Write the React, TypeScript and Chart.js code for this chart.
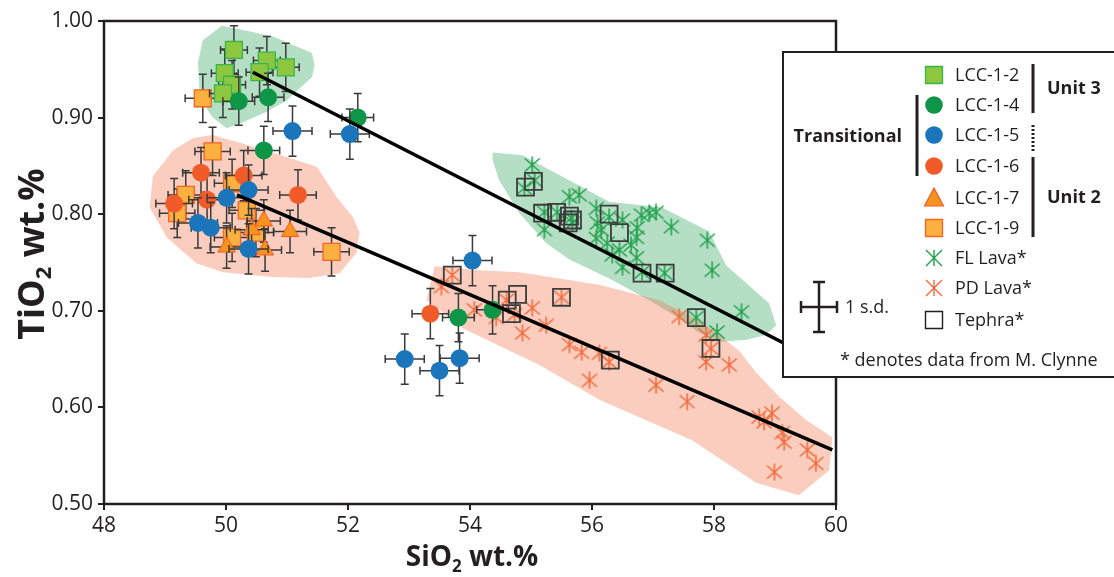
import React, { useEffect, useRef } from 'react';
import { Chart, registerables } from 'chart.js';

Chart.register(...registerables);

// ---------- axis ----------
const X_MIN = 48;
const X_MAX = 60;
const Y_MIN = 0.5;
const Y_MAX = 1.0;
const X_TICKS = [48, 50, 52, 54, 56, 58, 60];
const Y_TICKS = [0.5, 0.6, 0.7, 0.8, 0.9, 1.0];

// ---------- LCC samples (SiO2, TiO2) ----------
const LCC12_SIO2 = [50.13, 50.67, 50.98, 50.55, 49.98, 50.10, 49.95];
const LCC12_TIO2 = [0.970, 0.959, 0.952, 0.947, 0.946, 0.934, 0.925];

const LCC14_SIO2 = [50.21, 50.69, 50.62, 52.16, 53.81, 54.37];
const LCC14_TIO2 = [0.917, 0.921, 0.866, 0.900, 0.693, 0.701];

const LCC15_SIO2 = [51.09, 52.03, 50.37, 50.01, 49.54, 49.75, 50.37, 54.04, 52.93, 53.50, 53.83];
const LCC15_TIO2 = [0.886, 0.883, 0.825, 0.817, 0.791, 0.786, 0.764, 0.752, 0.650, 0.638, 0.651];

const LCC16_SIO2 = [49.59, 50.29, 51.18, 49.15, 49.69, 53.35];
const LCC16_TIO2 = [0.843, 0.840, 0.820, 0.811, 0.815, 0.697];

const LCC17_SIO2 = [50.62, 50.42, 51.05, 50.01, 50.64];
const LCC17_TIO2 = [0.793, 0.784, 0.782, 0.766, 0.763];

const LCC19_SIO2 = [49.62, 49.78, 50.10, 49.34, 49.20, 50.34, 50.10, 50.49, 51.73];
const LCC19_TIO2 = [0.920, 0.865, 0.832, 0.820, 0.801, 0.804, 0.776, 0.781, 0.761];

// 1 s.d. uncertainties per sample series (SiO2, TiO2)
const LCC12_SD = [0.22, 0.025];
const LCC14_SD = [0.26, 0.025];
const LCC15_SD = [0.32, 0.026];
const LCC16_SD = [0.30, 0.026];
const LCC17_SD = [0.27, 0.022];
const LCC19_SD = [0.29, 0.025];

// ---------- M. Clynne data ----------
const FL_SIO2 = [55.02, 54.89, 55.06, 55.22, 55.43, 55.22, 55.63, 55.79, 55.66, 55.68, 56.07, 56.09, 56.15, 56.07, 56.28, 56.50, 56.25, 56.33, 56.50, 56.73, 56.74, 56.81, 56.94, 57.05, 56.73, 57.30, 56.82, 57.19, 57.89, 57.97, 58.45, 58.05, 57.71, 56.45, 56.64];
const FL_TIO2 = [0.851, 0.827, 0.835, 0.802, 0.802, 0.784, 0.818, 0.820, 0.796, 0.791, 0.806, 0.791, 0.784, 0.775, 0.797, 0.794, 0.770, 0.758, 0.745, 0.776, 0.786, 0.799, 0.801, 0.802, 0.755, 0.787, 0.740, 0.739, 0.773, 0.742, 0.699, 0.678, 0.693, 0.763, 0.768];

const PD_SIO2 = [53.53, 53.71, 54.07, 54.43, 54.60, 54.73, 55.02, 55.25, 54.86, 55.63, 55.83, 56.12, 55.96, 55.50, 56.28, 57.43, 57.87, 57.95, 57.87, 58.25, 57.05, 57.56, 58.74, 58.95, 58.82, 59.12, 59.15, 59.53, 59.67, 58.99];
const PD_TIO2 = [0.725, 0.737, 0.701, 0.693, 0.711, 0.696, 0.703, 0.685, 0.677, 0.665, 0.657, 0.656, 0.628, 0.714, 0.647, 0.694, 0.675, 0.661, 0.647, 0.644, 0.623, 0.606, 0.590, 0.594, 0.585, 0.574, 0.564, 0.556, 0.542, 0.533];

const TEPHRA_SIO2 = [54.91, 55.04, 55.19, 55.42, 55.63, 55.68, 55.61, 56.28, 56.45, 56.82, 57.20, 57.71, 53.71, 54.61, 54.78, 54.68, 55.50, 56.30, 57.95];
const TEPHRA_TIO2 = [0.828, 0.834, 0.801, 0.802, 0.798, 0.794, 0.791, 0.800, 0.781, 0.739, 0.739, 0.693, 0.737, 0.711, 0.717, 0.697, 0.714, 0.649, 0.661];

// ---------- trend lines ----------
const UNIT3_TREND_SIO2 = [50.44, 60.0];
const UNIT3_TREND_TIO2 = [0.947, 0.639];
const UNIT2_TREND_SIO2 = [50.18, 59.94];
const UNIT2_TREND_TIO2 = [0.820, 0.556];

// ---------- shaded fields ----------
const FIELD_U3_SIO2 = [49.93, 50.34, 50.77, 51.41, 51.45, 51.41, 51.00, 50.67, 50.23, 50.01, 49.77, 49.57, 49.54, 49.62];
const FIELD_U3_TIO2 = [0.995, 0.990, 0.984, 0.967, 0.954, 0.942, 0.918, 0.906, 0.894, 0.889, 0.901, 0.921, 0.957, 0.980];

const FIELD_U2_SIO2 = [49.77, 50.23, 51.00, 51.49, 51.81, 52.08, 52.19, 52.14, 51.86, 51.37, 50.77, 49.95, 49.52, 49.03, 48.75, 48.80, 49.13, 49.46];
const FIELD_U2_TIO2 = [0.882, 0.874, 0.859, 0.849, 0.818, 0.797, 0.781, 0.760, 0.739, 0.734, 0.735, 0.740, 0.749, 0.776, 0.807, 0.839, 0.866, 0.879];

const FIELD_FL_SIO2 = [54.37, 54.86, 55.51, 56.28, 57.15, 57.92, 58.20, 58.90, 59.02, 58.85, 58.53, 58.13, 57.76, 57.38, 56.94, 56.33, 55.63, 55.25, 54.81, 54.48, 54.37];
const FIELD_FL_TIO2 = [0.864, 0.861, 0.839, 0.813, 0.807, 0.782, 0.747, 0.708, 0.685, 0.675, 0.670, 0.668, 0.677, 0.694, 0.711, 0.732, 0.753, 0.770, 0.801, 0.835, 0.856];

const FIELD_PD_SIO2 = [53.42, 54.16, 54.81, 56.12, 57.10, 57.76, 58.41, 58.69, 59.07, 59.51, 59.94, 59.89, 59.39, 58.69, 57.64, 56.12, 55.14, 53.88, 53.29];
const FIELD_PD_TIO2 = [0.746, 0.742, 0.740, 0.727, 0.711, 0.690, 0.659, 0.636, 0.611, 0.587, 0.569, 0.535, 0.509, 0.522, 0.566, 0.608, 0.644, 0.682, 0.711];

// ---------- legend text ----------
const LEGEND_LABELS = ['LCC-1-2', 'LCC-1-4', 'LCC-1-5', 'LCC-1-6', 'LCC-1-7', 'LCC-1-9', 'FL Lava*', 'PD Lava*', 'Tephra*'];

const INK = '#231f20';
const FONT = "'Open Sans', 'DejaVu Sans', sans-serif";

const C_GREEN_LIGHT = '#8dc63f';
const C_GREEN_LIGHT_EDGE = '#39b54a';
const C_GREEN = '#0f9547';
const C_BLUE = '#1b75bb';
const C_RED = '#f15a29';
const C_ORANGE = '#f7941d';
const C_ORANGE_EDGE = '#f15a29';
const C_YELLOW = '#fbb040';
const C_YELLOW_EDGE = '#f26522';
const C_FL = '#21a04c';
const C_PD = '#f26a3b';
const FIELD_GREEN = '#b4dfc5';
const FIELD_PINK = 'rgba(241,116,74,0.36)';

function pts(xs: number[], ys: number[]) {
  return xs.map((x, i) => ({ x, y: ys[i] }));
}

function makeAsterisk(color: string, w = 18, h = 18, sx = 7.5, sy = 6.5, sv = 8.5) {
  const c = document.createElement('canvas');
  c.width = w;
  c.height = h;
  const g = c.getContext('2d')!;
  const cx = w / 2, cy = h / 2;
  g.strokeStyle = color;
  g.lineWidth = 1.5;
  g.beginPath();
  g.moveTo(cx, cy - sv); g.lineTo(cx, cy + sv);
  g.moveTo(cx - sx, cy - sy); g.lineTo(cx + sx, cy + sy);
  g.moveTo(cx + sx, cy - sy); g.lineTo(cx - sx, cy + sy);
  g.stroke();
  return c;
}

function drawAsteriskAt(ctx: CanvasRenderingContext2D, color: string, cx: number, cy: number, s: number) {
  ctx.save();
  ctx.strokeStyle = color;
  ctx.lineWidth = 1.4;
  ctx.beginPath();
  ctx.moveTo(cx, cy - s); ctx.lineTo(cx, cy + s);
  ctx.moveTo(cx - s, cy - s); ctx.lineTo(cx + s, cy + s);
  ctx.moveTo(cx + s, cy - s); ctx.lineTo(cx - s, cy + s);
  ctx.stroke();
  ctx.restore();
}

const fieldsPlugin = {
  id: 'fields',
  beforeDatasetsDraw(chart: any) {
    const { ctx, chartArea, scales } = chart;
    const xs = scales.x, ys = scales.y;
    const fields: [number[], number[], string][] = [
      [FIELD_U3_SIO2, FIELD_U3_TIO2, FIELD_GREEN],
      [FIELD_FL_SIO2, FIELD_FL_TIO2, FIELD_GREEN],
      [FIELD_U2_SIO2, FIELD_U2_TIO2, FIELD_PINK],
      [FIELD_PD_SIO2, FIELD_PD_TIO2, FIELD_PINK],
    ];
    ctx.save();
    ctx.beginPath();
    ctx.rect(chartArea.left, chartArea.top, chartArea.right - chartArea.left, chartArea.bottom - chartArea.top);
    ctx.clip();
    for (const [fx, fy, col] of fields) {
      ctx.beginPath();
      fx.forEach((v, i) => {
        const px = xs.getPixelForValue(v);
        const py = ys.getPixelForValue(fy[i]);
        if (i === 0) ctx.moveTo(px, py); else ctx.lineTo(px, py);
      });
      ctx.closePath();
      ctx.fillStyle = col;
      ctx.fill();
    }
    ctx.restore();
  },
};

const errorBarPlugin = {
  id: 'errbars',
  beforeDatasetDraw(chart: any, args: any) {
    const ds = chart.data.datasets[args.index];
    if (!ds.sd) return;
    const { ctx, scales } = chart;
    const xs = scales.x, ys = scales.y;
    const [ex, ey] = ds.sd;
    ctx.save();
    ctx.strokeStyle = '#3a3a3a';
    ctx.lineWidth = 1.5;
    const cap = 4;
    for (const p of ds.data) {
      const px = xs.getPixelForValue(p.x);
      const py = ys.getPixelForValue(p.y);
      const x0 = xs.getPixelForValue(p.x - ex);
      const x1 = xs.getPixelForValue(p.x + ex);
      const y0 = ys.getPixelForValue(p.y - ey);
      const y1 = ys.getPixelForValue(p.y + ey);
      ctx.beginPath();
      ctx.moveTo(x0, py); ctx.lineTo(x1, py);
      ctx.moveTo(px, y0); ctx.lineTo(px, y1);
      ctx.moveTo(x0, py - cap); ctx.lineTo(x0, py + cap);
      ctx.moveTo(x1, py - cap); ctx.lineTo(x1, py + cap);
      ctx.moveTo(px - cap, y0); ctx.lineTo(px + cap, y0);
      ctx.moveTo(px - cap, y1); ctx.lineTo(px + cap, y1);
      ctx.stroke();
    }
    ctx.restore();
  },
};

const framePlugin = {
  id: 'frame',
  afterDatasetsDraw(chart: any) {
    const { ctx, chartArea } = chart;
    ctx.save();
    ctx.strokeStyle = INK;
    ctx.lineWidth = 2.5;
    ctx.strokeRect(chartArea.left, chartArea.top, chartArea.right - chartArea.left, chartArea.bottom - chartArea.top);
    ctx.restore();
  },
};

function drawSubText(ctx: CanvasRenderingContext2D, parts: [string, boolean][], cx: number, cy: number, size: number) {
  const big = `bold ${size}px ${FONT}`;
  const small = `bold ${Math.round(size * 0.62)}px ${FONT}`;
  let total = 0;
  const ws = parts.map(([t, sub]) => {
    ctx.font = sub ? small : big;
    const w = ctx.measureText(t).width;
    total += w;
    return w;
  });
  let x = cx - total / 2;
  const base = cy + size * 0.36;
  ctx.textBaseline = 'alphabetic';
  ctx.textAlign = 'left';
  parts.forEach(([t, sub], i) => {
    ctx.font = sub ? small : big;
    ctx.fillText(t, x, sub ? base + size * 0.2 : base);
    x += ws[i];
  });
}

const titlesPlugin = {
  id: 'titles',
  afterDraw(chart: any) {
    const { ctx } = chart;
    ctx.save();
    ctx.fillStyle = INK;
    drawSubText(ctx, [['SiO', false], ['2', true], [' wt.%', false]], 472, 556, 28);
    ctx.translate(31, 254);
    ctx.rotate(-Math.PI / 2);
    drawSubText(ctx, [['TiO', false], ['2', true], [' wt.%', false]], 0, 0, 36);
    ctx.restore();
  },
};

const legendPlugin = {
  id: 'customLegend',
  afterDraw(chart: any) {
    const { ctx } = chart;
    ctx.save();
    // box
    ctx.fillStyle = '#ffffff';
    ctx.fillRect(783, 52, 340, 325);
    ctx.strokeStyle = INK;
    ctx.lineWidth = 2;
    ctx.strokeRect(783, 52, 340, 325);

    const mx = 934;
    const rows = [75, 105, 135, 166, 198, 228, 258, 288, 320];
    // markers
    const sq = (y: number, fill: string | null, edge: string, lw: number) => {
      ctx.beginPath();
      ctx.rect(mx - 8.5, y - 8.5, 17, 17);
      if (fill) { ctx.fillStyle = fill; ctx.fill(); }
      ctx.strokeStyle = edge; ctx.lineWidth = lw; ctx.stroke();
    };
    const circ = (y: number, fill: string) => {
      ctx.beginPath();
      ctx.arc(mx, y, 8.8, 0, Math.PI * 2);
      ctx.fillStyle = fill; ctx.fill();
    };
    sq(rows[0], C_GREEN_LIGHT, C_GREEN_LIGHT_EDGE, 1.3);
    circ(rows[1], C_GREEN);
    circ(rows[2], C_BLUE);
    circ(rows[3], C_RED);
    ctx.beginPath();
    ctx.moveTo(mx, rows[4] - 10);
    ctx.lineTo(mx + 9.5, rows[4] + 8);
    ctx.lineTo(mx - 9.5, rows[4] + 8);
    ctx.closePath();
    ctx.fillStyle = C_ORANGE; ctx.fill();
    ctx.strokeStyle = C_ORANGE_EDGE; ctx.lineWidth = 1.2; ctx.stroke();
    sq(rows[5], C_YELLOW, C_YELLOW_EDGE, 1.3);
    drawAsteriskAt(ctx, C_FL, mx, rows[6], 8);
    drawAsteriskAt(ctx, C_PD, mx, rows[7], 8);
    sq(rows[8], null, INK, 1.4);

    // labels
    ctx.fillStyle = INK;
    ctx.font = `18px ${FONT}`;
    ctx.textBaseline = 'middle';
    ctx.textAlign = 'left';
    LEGEND_LABELS.forEach((t, i) => ctx.fillText(t, 955, rows[i] + 1));

    // group bars
    ctx.strokeStyle = INK;
    ctx.lineWidth = 3;
    ctx.beginPath();
    ctx.moveTo(1033, 64); ctx.lineTo(1033, 113);
    ctx.moveTo(1033, 157); ctx.lineTo(1033, 237);
    ctx.moveTo(917, 95); ctx.lineTo(917, 176);
    ctx.stroke();
    ctx.setLineDash([2, 2]);
    ctx.beginPath();
    ctx.moveTo(1033, 125); ctx.lineTo(1033, 152);
    ctx.stroke();
    ctx.setLineDash([]);

    ctx.font = `bold 18px ${FONT}`;
    ctx.fillText('Unit 3', 1047, 89);
    ctx.fillText('Unit 2', 1047, 198);
    ctx.textAlign = 'right';
    ctx.fillText('Transitional', 902, 137);
    ctx.textAlign = 'left';

    // 1 s.d. symbol
    ctx.lineWidth = 2.5;
    ctx.beginPath();
    ctx.moveTo(801, 307); ctx.lineTo(837, 307);
    ctx.moveTo(819, 282); ctx.lineTo(819, 332);
    ctx.moveTo(801, 301); ctx.lineTo(801, 313);
    ctx.moveTo(837, 301); ctx.lineTo(837, 313);
    ctx.moveTo(813, 282); ctx.lineTo(825, 282);
    ctx.moveTo(813, 332); ctx.lineTo(825, 332);
    ctx.stroke();
    ctx.font = `18px ${FONT}`;
    ctx.fillText('1 s.d.', 845, 308);
    ctx.fillText('* denotes data from M. Clynne', 840, 361);
    ctx.restore();
  },
};

export default function App() {
  const ref = useRef<HTMLCanvasElement | null>(null);

  useEffect(() => {
    if (!ref.current) return;
    const flStar = makeAsterisk(C_FL);
    const pdStar = makeAsterisk(C_PD);
    const tickFont = { family: FONT, size: 21 };

    const chart = new Chart(ref.current, {
      type: 'scatter',
      data: {
        datasets: [
          { label: 'Unit 3 trend', data: pts(UNIT3_TREND_SIO2, UNIT3_TREND_TIO2), showLine: true, borderColor: '#000', borderWidth: 3.5, pointRadius: 0 },
          { label: 'Unit 2 trend', data: pts(UNIT2_TREND_SIO2, UNIT2_TREND_TIO2), showLine: true, borderColor: '#000', borderWidth: 3.5, pointRadius: 0 },
          { label: 'LCC-1-5', data: pts(LCC15_SIO2, LCC15_TIO2), sd: LCC15_SD, pointStyle: 'circle', pointRadius: 9, backgroundColor: C_BLUE, borderWidth: 0 } as any,
          { label: 'LCC-1-4', data: pts(LCC14_SIO2, LCC14_TIO2), sd: LCC14_SD, pointStyle: 'circle', pointRadius: 9, backgroundColor: C_GREEN, borderWidth: 0 } as any,
          { label: 'LCC-1-6', data: pts(LCC16_SIO2, LCC16_TIO2), sd: LCC16_SD, pointStyle: 'circle', pointRadius: 9, backgroundColor: C_RED, borderWidth: 0 } as any,
          { label: 'LCC-1-7', data: pts(LCC17_SIO2, LCC17_TIO2), sd: LCC17_SD, pointStyle: 'triangle', pointRadius: 10, backgroundColor: C_ORANGE, borderColor: C_ORANGE_EDGE, borderWidth: 1 } as any,
          { label: 'LCC-1-2', data: pts(LCC12_SIO2, LCC12_TIO2), sd: LCC12_SD, pointStyle: 'rect', pointRadius: 12, backgroundColor: C_GREEN_LIGHT, borderColor: C_GREEN_LIGHT_EDGE, borderWidth: 1.3 } as any,
          { label: 'LCC-1-9', data: pts(LCC19_SIO2, LCC19_TIO2), sd: LCC19_SD, pointStyle: 'rect', pointRadius: 12, backgroundColor: C_YELLOW, borderColor: C_YELLOW_EDGE, borderWidth: 1.3 } as any,
          { label: 'Tephra*', data: pts(TEPHRA_SIO2, TEPHRA_TIO2), pointStyle: 'rect', pointRadius: 12, backgroundColor: 'rgba(0,0,0,0)', borderColor: '#3c3c3c', borderWidth: 1.8 },
          { label: 'FL Lava*', data: pts(FL_SIO2, FL_TIO2), pointStyle: flStar as any, pointRadius: 8 },
          { label: 'PD Lava*', data: pts(PD_SIO2, PD_TIO2), pointStyle: pdStar as any, pointRadius: 8 },
        ],
      },
      options: {
        animation: false,
        responsive: false,
        devicePixelRatio: 1,
        layout: { padding: { top: 21, right: 278, left: 0, bottom: 0 } },
        plugins: { legend: { display: false }, tooltip: { enabled: false } },
        scales: {
          x: {
            type: 'linear',
            min: X_MIN,
            max: X_MAX,
            afterFit: (s: any) => { s.height = 73; },
            afterBuildTicks: (s: any) => { s.ticks = X_TICKS.map((v) => ({ value: v })); },
            ticks: { font: tickFont, color: INK, padding: 3, maxRotation: 0, autoSkip: false, callback: (v: any) => String(v) },
            grid: { drawOnChartArea: false, drawTicks: true, tickLength: 6, lineWidth: 2, color: INK },
            border: { display: false },
          },
          y: {
            type: 'linear',
            min: Y_MIN,
            max: Y_MAX,
            afterFit: (s: any) => { s.width = 104; },
            afterBuildTicks: (s: any) => { s.ticks = Y_TICKS.map((v) => ({ value: v })); },
            ticks: { font: tickFont, color: INK, padding: 5, autoSkip: false, callback: (v: any) => Number(v).toFixed(2) },
            grid: { drawOnChartArea: false, drawTicks: true, tickLength: 6, lineWidth: 2, color: INK },
            border: { display: false },
          },
        },
      },
      plugins: [fieldsPlugin, errorBarPlugin, framePlugin, titlesPlugin, legendPlugin],
    } as any);
    return () => chart.destroy();
  }, []);

  return (
    <div style={{ position: 'absolute', left: 0, top: 0, width: 1114, height: 577, background: '#fff' }}>
      <canvas ref={ref} width={1114} height={577} style={{ display: 'block', width: 1114, height: 577 }} />
    </div>
  );
}
